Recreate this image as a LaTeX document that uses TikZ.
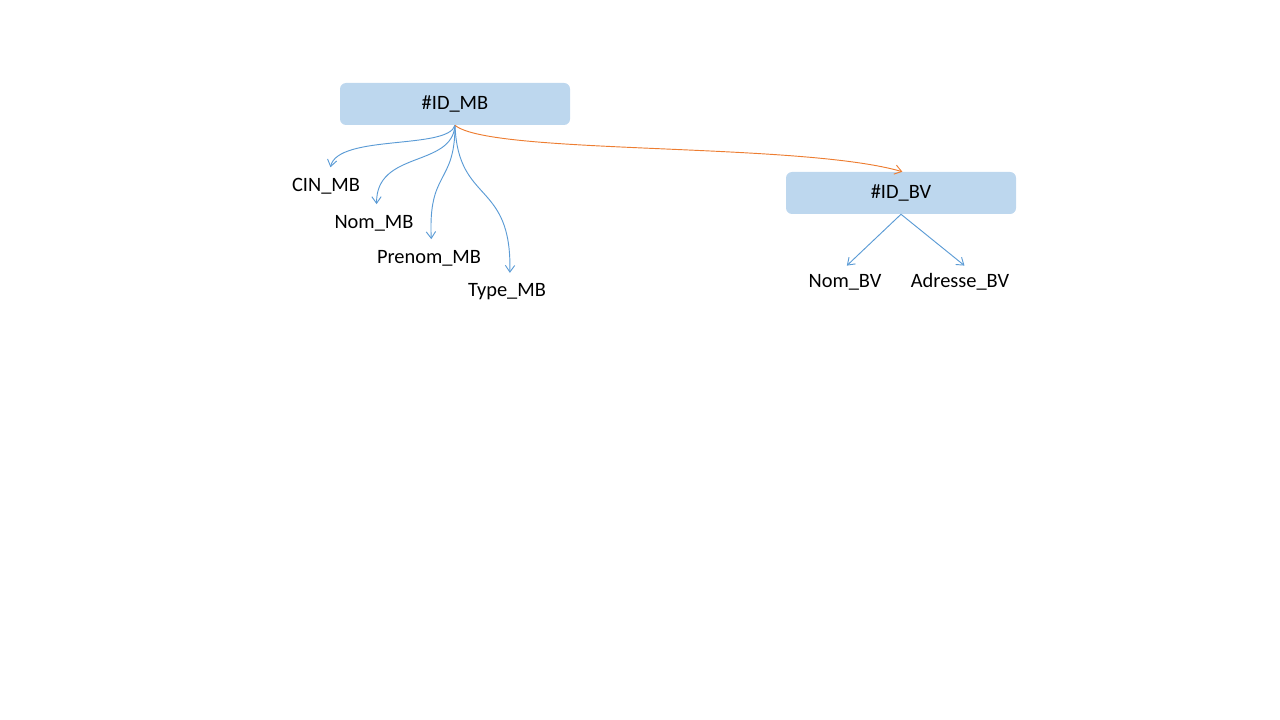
\documentclass[tikz,border=0pt]{standalone}
\usepackage{fontspec}
\setmainfont{Carlito}
\usetikzlibrary{arrows.meta}
\definecolor{boxfill}{RGB}{189,215,238}
\definecolor{lineblue}{RGB}{91,155,213}
\definecolor{lineorange}{RGB}{237,125,49}
\tikzset{
	keybox/.style={fill=boxfill,rounded corners=4.5pt,minimum width=172.5pt,minimum height=31.5pt,font=\fontsize{15.3}{18}\selectfont},
	attr/.style={inner sep=2pt,font=\fontsize{15.3}{18}\selectfont},
	link/.style={draw=lineblue,line width=0.7pt,-{Straight Barb[length=5pt,width=7pt]}},
	ref/.style={draw=lineorange,line width=0.7pt,-{Straight Barb[length=5pt,width=7pt]}}
}
\begin{document}
\begin{tikzpicture}[x=0.75pt,y=-0.75pt]
		\useasboundingbox (0,0) rectangle (1280,720);
		\node[keybox] (mb) at (455,104) {\#ID\_MB};
		\node[keybox] (bv) at (901,193) {\#ID\_BV};
		\node[attr] (cin) at (326,186) {CIN\_MB};
		\node[attr] (nom) at (374,223) {Nom\_MB};
		\node[attr] (prenom) at (429,258) {Prenom\_MB};
		\node[attr] (type) at (507,292) {Type\_MB};
		\node[attr] (nombv) at (845,282) {Nom\_BV};
		\node[attr] (adresse) at (960,282) {Adresse\_BV};
		% curved links from the key
		\draw[link,shorten >=6pt] (mb.south) .. controls (448,150) and (338,134) .. ([xshift=2]cin.north);
		\draw[link,shorten >=6pt] (mb.south) .. controls (452,168) and (376,150) .. ([xshift=2]nom.north);
		\draw[link,shorten >=6pt] (mb.south) .. controls (455,185) and (428,170) .. ([xshift=2]prenom.north);
		\draw[link,shorten >=6pt] (mb.south) .. controls (458,205) and (512,180) .. ([xshift=2]type.north);
		\draw[ref] (mb.south) .. controls (490,155) and (800,142) .. ([xshift=1]bv.north);
		% straight links
		\draw[link,shorten >=6pt] (bv.south) -- ([xshift=-3]nombv.north);
		\draw[link,shorten >=6pt] (bv.south) -- ([xshift=8]adresse.north);
\end{tikzpicture}
\end{document}
